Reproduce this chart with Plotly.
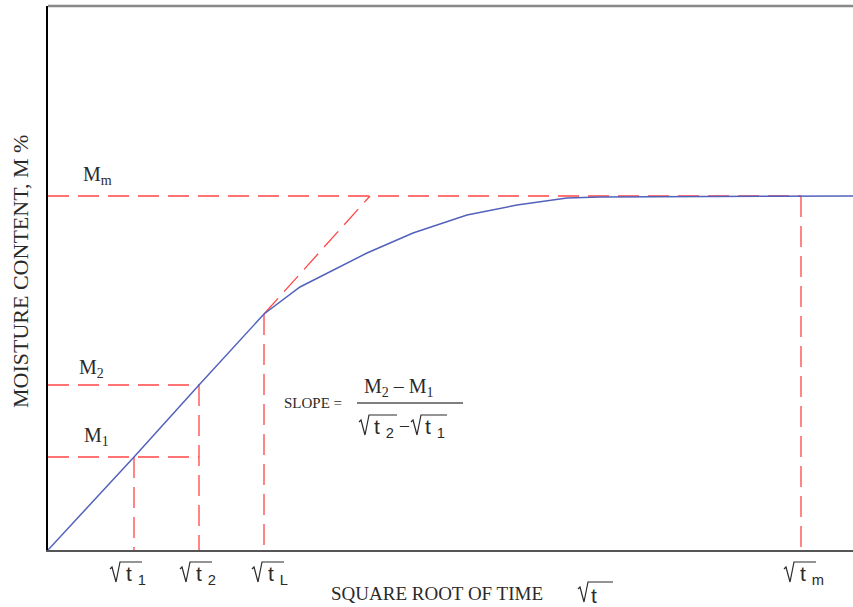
import plotly.graph_objects as go

# Key values (abstract units)
t1, t2, tL, tm = 86, 151, 216, 753
M1, M2, Mm = 93, 165, 354
ML = 236                      # moisture at end of linear part
tangent_end_x = 322

curve_x = [0, t1, t2, tL, 252, 319, 365, 419, 469, 519, 552, 805]
curve_y = [0, M1, M2, ML, 263, 297, 317, 335, 345, 352, 353, Mm]

tick_pos = [t1, t2, tL, tm]
tick_subs = ["1", "2", "L", "m"]

X_RANGE = [0, 805]
Y_RANGE = [0, 544]

RED = "#ff4646"
BLUE = "#5262bc"
SERIF = "Liberation Serif"
SANS = "Liberation Sans"
DASH = "21px,9px"
INK = "#2a2a2a"

# plot-area geometry in pixels (for placing text around the plot)
L0, T0, W0, H0 = 48, 6, 805, 544


def PX(px):
    return (px - L0) / W0


def PY(py):
    return (T0 + H0 - py) / H0


fig = go.Figure()


def dline(x, y):
    fig.add_trace(go.Scatter(x=x, y=y, mode="lines", hoverinfo="skip",
                             line=dict(color=RED, width=1.3, dash=DASH), showlegend=False))


# horizontal guides
dline([0, tm], [Mm, Mm])
dline([0, t2], [M2, M2])
dline([0, t2], [M1, M1])
# verticals
dline([t1, t1], [M1, 0])
dline([t2, t2], [M2, 0])
dline([tL, tL], [ML, 0])
dline([tm, tm], [Mm, 0])
# tangent extension
dline([tL, tangent_end_x], [ML, Mm])

fig.add_trace(go.Scatter(x=curve_x, y=curve_y, mode="lines", hoverinfo="skip",
                         line=dict(color=BLUE, width=1.5), showlegend=False))

ann = []
shapes = []


def txt(px, py, s, size=18, family=SERIF, xanchor="center", angle=0):
    ann.append(dict(x=PX(px), y=PY(py), xref="paper", yref="paper", text=s,
                    showarrow=False, font=dict(family=family, size=size, color=INK),
                    xanchor=xanchor, yanchor="middle", textangle=angle))


def radical(Lx, T, B, E, sub, tdx=14, size=21):
    path = (f"M {PX(Lx)},{PY(T + 7)} L {PX(Lx + 2)},{PY(T + 5)} "
            f"L {PX(Lx + 6)},{PY(B)} L {PX(Lx + 10)},{PY(T)} L {PX(E)},{PY(T)}")
    shapes.append(dict(type="path", path=path, xref="paper", yref="paper",
                       line=dict(color=INK, width=1.2)))
    s = "t" + (" <sub>" + sub + "</sub>" if sub else "")
    txt(Lx + tdx, B - 7, s, size=size, family=SANS, xanchor="left")


# tick labels under the axis (offset of label centre from tick, pixels)
label_offsets = [-8, -3, 4, -1]
for p, sub, off in zip(tick_pos, tick_subs, label_offsets):
    c = L0 + p + off
    radical(c - 16, 562, 582, c + 16, sub)

# axis title
txt(329, 593, "SQUARE ROOT OF TIME", size=19, xanchor="left")
radical(578, 582, 602, 613, None, tdx=11)

# y axis title
txt(20, 272, "MOISTURE CONTENT, M %", size=22, angle=-90)

# M labels
txt(81, 175, "M<sub>m</sub>", size=20, xanchor="left")
txt(77, 368, "M<sub>2</sub>", size=20, xanchor="left")
txt(82, 436, "M<sub>1</sub>", size=20, xanchor="left")

# slope formula
txt(282, 403, "SLOPE =", size=15, xanchor="left")
txt(399, 387, "M<sub>2</sub> \u2013 M<sub>1</sub>", size=20)
shapes.append(dict(type="line", x0=PX(357), x1=PX(463), y0=PY(403), y1=PY(403),
                   xref="paper", yref="paper", line=dict(color="#555", width=1.5)))
radical(359, 415, 435, 397, "2", tdx=13)
txt(404, 425, "\u2013", size=18)
radical(411, 415, 435, 447, "1", tdx=12)

# top border
shapes.append(dict(type="line", x0=0, x1=1, y0=1, y1=1, xref="paper", yref="paper",
                   line=dict(color="#888", width=2.5)))

fig.update_layout(annotations=ann, shapes=shapes)

fig.update_xaxes(range=X_RANGE, showgrid=False, zeroline=False, showticklabels=False,
                 ticks="", showline=True, linecolor="#555", linewidth=2)
fig.update_yaxes(range=Y_RANGE, showgrid=False, zeroline=False, showticklabels=False,
                 ticks="", showline=True, linecolor="#000", linewidth=2)

fig.update_layout(width=853, height=607, margin=dict(l=L0, r=0, t=T0, b=607 - T0 - H0),
                  plot_bgcolor="white", paper_bgcolor="white")

fig.write_html("out.html")
